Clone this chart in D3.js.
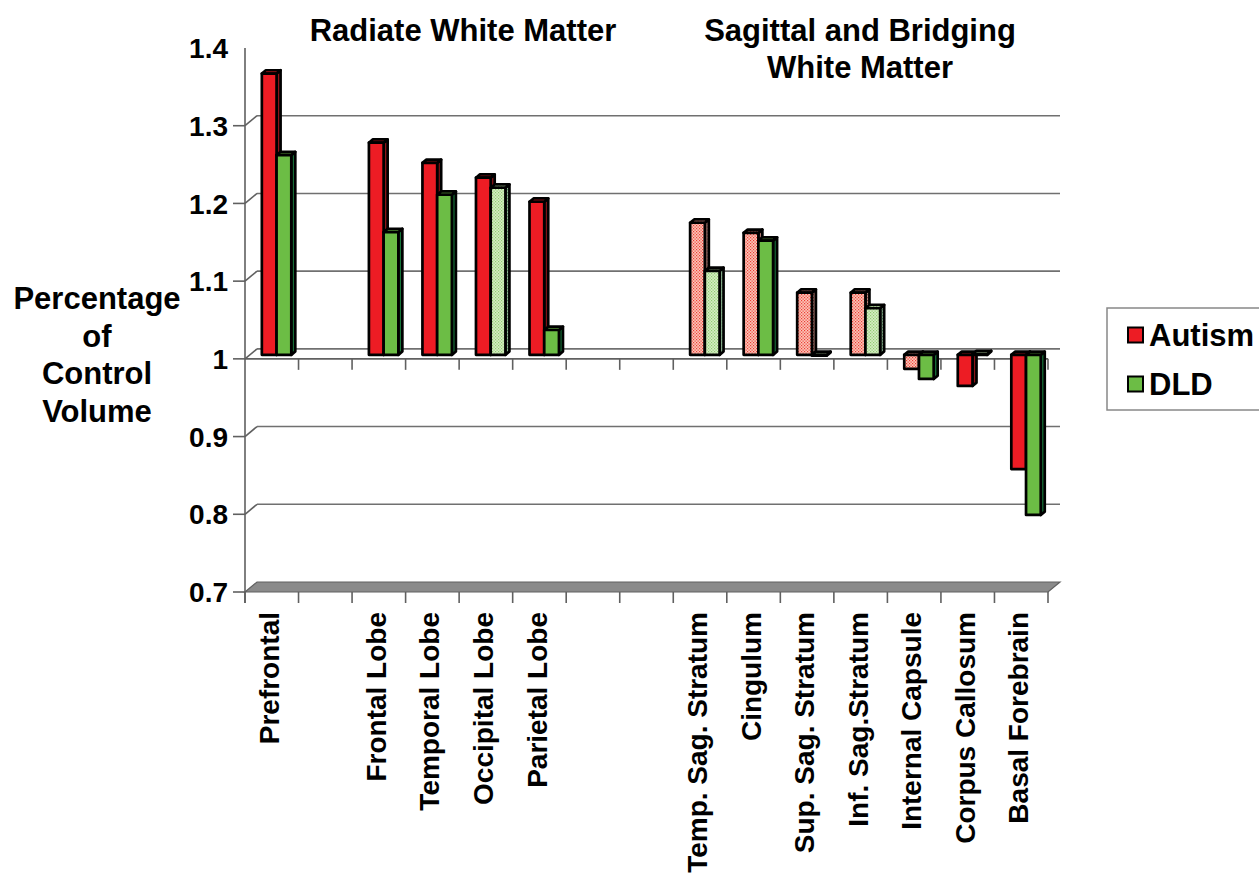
<!DOCTYPE html>
<html>
<head>
<meta charset="utf-8">
<script src="https://cdn.jsdelivr.net/npm/d3@7"></script>
<style>
  html, body { margin: 0; padding: 0; background: #fff; }
  svg { display: block; }
  text { font-family: "Liberation Sans", Arial, sans-serif; font-weight: bold; fill: #000; }
</style>
</head>
<body>
<svg id="chart" width="1259" height="880"></svg>
<script>
// Regional white matter volume as a fraction of control volume
const categories = [
  "Prefrontal", "", "Frontal Lobe", "Temporal Lobe", "Occipital Lobe", "Parietal Lobe", "", "",
  "Temp. Sag. Stratum", "Cingulum", "Sup. Sag. Stratum", "Inf. Sag.Stratum",
  "Internal Capsule", "Corpus Callosum", "Basal Forebrain"
];
const autism = [1.362, null, 1.273, 1.247, 1.228, 1.197, null, null, 1.170, 1.157, 1.080, 1.080, 0.982, 0.960, 0.853];
const dld    = [1.257, null, 1.158, 1.206, 1.215, 1.032, null, null, 1.108, 1.147, 0.999, 1.060, 0.969, 1.001, 0.794];
// true = significant difference (solid fill), false = not significant (stippled fill)
const autismSignificant = [true, null, true, true, true, true, null, null, false, false, false, false, false, true, true];
const dldSignificant    = [true, null, true, true, false, true, null, null, false, true, false, false, true, false, true];

const seriesNames = ["Autism", "DLD"];
const yTickValues = [0.7, 0.8, 0.9, 1.0, 1.1, 1.2, 1.3, 1.4];
const yTickLabels = ["0.7", "0.8", "0.9", "1", "1.1", "1.2", "1.3", "1.4"];
const yTitleLines = ["Percentage", "of", "Control", "Volume"];
const groupTitles = [
  { lines: ["Radiate White Matter"], cx: 463 },
  { lines: ["Sagittal and Bridging", "White Matter"], cx: 860 }
];

const svg = d3.select("#chart");

// Plot geometry (front plane) and oblique depth of the back wall
const left = 245, right = 1048;
const depth = { dx: 12, dy: -10 };
const barOffset = { dx: 4.8, dy: -4 };   // bars sit part-way into the depth
const barDepth = { dx: 4, dy: -3.3 };

const y = d3.scaleLinear().domain([0.7, 1.4]).range([592, 48]);
const x = d3.scaleBand().domain(d3.range(categories.length)).range([left, right]).paddingInner(0).paddingOuter(0);
const bw = x.bandwidth();
const xs = d3.scaleBand().domain(seriesNames).range([bw * 0.225, bw * 0.775]);

// Fill patterns for non-significant bars
const defs = svg.append("defs");
function stipple(id, bg, dot) {
  const p = defs.append("pattern").attr("id", id).attr("patternUnits", "userSpaceOnUse")
    .attr("width", 3).attr("height", 3);
  p.append("rect").attr("width", 3).attr("height", 3).attr("fill", bg);
  p.append("rect").attr("x", 0).attr("y", 0).attr("width", 1.2).attr("height", 1.2).attr("fill", dot);
  p.append("rect").attr("x", 1.5).attr("y", 1.5).attr("width", 1.2).attr("height", 1.2).attr("fill", dot);
}
stipple("pinkFront", "#fbc6b8", "#ee3d36");
stipple("pinkSide", "#b98a80", "#7a3c36");
stipple("greenFront", "#d6edc4", "#8fca72");
stipple("greenSide", "#93b596", "#4f805a");

const palette = {
  Autism: { solid: { front: "#ed1c24", side: "#8c1419", top: "#ed1c24" },
            light: { front: "url(#pinkFront)", side: "url(#pinkSide)", top: "url(#pinkFront)" } },
  DLD:    { solid: { front: "#6cbd45", side: "#17743a", top: "#6cbd45" },
            light: { front: "url(#greenFront)", side: "url(#greenSide)", top: "url(#greenFront)" } }
};

// Back-wall gridlines and left-wall connectors
const wall = svg.append("g");
yTickValues.filter(v => v > 0.7 && v < 1.4).forEach(v => {
  const yf = y(v);
  wall.append("line").attr("x1", left + depth.dx).attr("x2", right + depth.dx)
    .attr("y1", yf + depth.dy).attr("y2", yf + depth.dy)
    .attr("stroke", "#707070").attr("stroke-width", 1.6);
  wall.append("line").attr("x1", left).attr("x2", left + depth.dx)
    .attr("y1", yf).attr("y2", yf + depth.dy)
    .attr("stroke", "#606060").attr("stroke-width", 1.6);
});

// Floor at the bottom of the value range
const yb = y(0.7);
wall.append("polygon")
  .attr("points", [[left, yb], [right, yb], [right + depth.dx, yb + depth.dy], [left + depth.dx, yb + depth.dy]].join(" "))
  .attr("fill", "#8a8a8a").attr("stroke", "#606060").attr("stroke-width", 1.2);

// Value axis
wall.append("line").attr("x1", left).attr("x2", left).attr("y1", y(1.4)).attr("y2", yb + 11)
  .attr("stroke", "#606060").attr("stroke-width", 1.6);
yTickValues.forEach((v, i) => {
  if (v < 1.4) {
    wall.append("line").attr("x1", left - 12).attr("x2", left).attr("y1", y(v)).attr("y2", y(v))
      .attr("stroke", "#606060").attr("stroke-width", 1.6);
  }
  svg.append("text").attr("x", 228).attr("y", y(v)).attr("dy", "0.36em")
    .attr("text-anchor", "end").attr("font-size", 28).text(yTickLabels[i]);
});

// Category axis crossing at 1, plus tick marks along the floor
const y1 = y(1.0);
wall.append("line").attr("x1", left).attr("x2", right).attr("y1", y1).attr("y2", y1)
  .attr("stroke", "#606060").attr("stroke-width", 1.6);
d3.range(categories.length + 1).forEach(k => {
  const xx = left + k * bw;
  if (k > 0) {
    wall.append("line").attr("x1", xx).attr("x2", xx).attr("y1", y1).attr("y2", y1 + 11)
      .attr("stroke", "#606060").attr("stroke-width", 1.6);
  }
  wall.append("line").attr("x1", xx).attr("x2", xx).attr("y1", yb).attr("y2", yb + 11)
    .attr("stroke", "#606060").attr("stroke-width", 1.6);
});

// 3-D bars
const bars = svg.append("g").attr("stroke", "#000").attr("stroke-width", 2.7).attr("stroke-linejoin", "round");
function drawBar(x0, w, v, colors) {
  const fx = x0 + barOffset.dx;
  const ya = y(1.0) + barOffset.dy, yv = y(v) + barOffset.dy;
  const top = Math.min(ya, yv), bot = Math.max(ya, yv);
  const { dx, dy } = barDepth;
  bars.append("polygon")
    .attr("points", [[fx + w, top], [fx + w + dx, top + dy], [fx + w + dx, bot + dy], [fx + w, bot]].join(" "))
    .attr("fill", colors.side);
  bars.append("polygon")
    .attr("points", [[fx, top], [fx + w, top], [fx + w + dx, top + dy], [fx + dx, top + dy]].join(" "))
    .attr("fill", colors.top);
  bars.append("rect").attr("x", fx).attr("y", top).attr("width", w).attr("height", bot - top)
    .attr("fill", colors.front);
}
categories.forEach((c, i) => {
  [[autism, autismSignificant, "Autism"], [dld, dldSignificant, "DLD"]].forEach(([vals, sig, name]) => {
    const v = vals[i];
    if (v == null) return;
    drawBar(x(i) + xs(name), xs.bandwidth(), v, palette[name][sig[i] ? "solid" : "light"]);
  });
});

// Category labels, rotated
categories.forEach((c, i) => {
  if (!c) return;
  const cx = x(i) + bw / 2 - 3;
  svg.append("text").attr("transform", `translate(${cx},612) rotate(-90)`)
    .attr("text-anchor", "end").attr("dy", "0.36em").attr("font-size", 28).text(c);
});

// Group titles
groupTitles.forEach(g => {
  g.lines.forEach((line, j) => {
    svg.append("text").attr("x", g.cx).attr("y", 41 + j * 37)
      .attr("text-anchor", "middle").attr("font-size", 31).text(line);
  });
});

// Value axis title
yTitleLines.forEach((line, j) => {
  svg.append("text").attr("x", 97).attr("y", 309 + j * 37.5)
    .attr("text-anchor", "middle").attr("font-size", 31).text(line);
});

// Legend
const legend = svg.append("g");
legend.append("rect").attr("x", 1107).attr("y", 308).attr("width", 200).attr("height", 102)
  .attr("fill", "#fff").attr("stroke", "#888").attr("stroke-width", 1.5);
seriesNames.forEach((name, i) => {
  const ly = 335 + i * 49;
  legend.append("rect").attr("x", 1128).attr("y", ly - 7.5).attr("width", 15).attr("height", 15)
    .attr("fill", palette[name].solid.front).attr("stroke", "#000").attr("stroke-width", 2);
  legend.append("text").attr("x", 1149).attr("y", ly).attr("dy", "0.36em")
    .attr("font-size", 31).text(name);
});
</script>
</body>
</html>
